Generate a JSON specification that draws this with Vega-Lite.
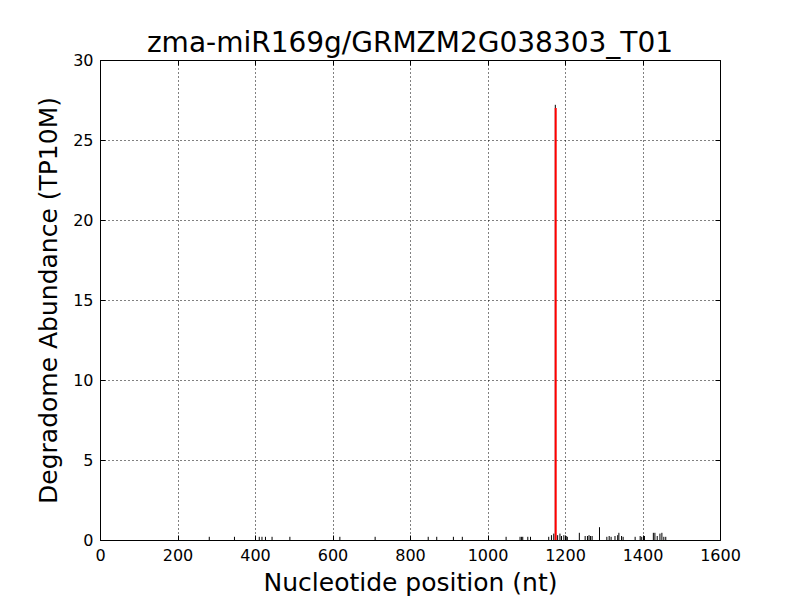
{
  "$schema": "https://vega.github.io/schema/vega-lite/v6.json",
  "width": 620,
  "height": 480,
  "autosize": "none",
  "padding": {"left": 100, "top": 60, "right": 80, "bottom": 60},
  "background": "white",
  "title": {"text": "zma-miR169g/GRMZM2G038303_T01", "font": "DejaVu Sans", "fontSize": 28, "fontWeight": "normal", "color": "black", "offset": -6},
  "config": {
    "view": {"stroke": "black", "strokeWidth": 1},
    "axis": {
      "labelFont": "DejaVu Sans", "labelFontSize": 16, "labelColor": "black", "labelFlush": false, "labelOverlap": false,
      "titleFont": "DejaVu Sans", "titleFontSize": 25, "titleFontWeight": "normal", "titleColor": "black",
      "domain": false, "tickColor": "black", "tickSize": -5, "labelPadding": 12,
      "grid": true, "gridColor": "black", "gridDash": [1, 3], "gridOpacity": 1
    }
  },
  "datasets": {
    "bars": [
      {"pos": 282, "val": 0.2}, {"pos": 347, "val": 0.2}, {"pos": 411, "val": 0.2}, {"pos": 418, "val": 0.2},
      {"pos": 427, "val": 0.2}, {"pos": 444, "val": 0.2}, {"pos": 490, "val": 0.2}, {"pos": 619, "val": 0.2},
      {"pos": 710, "val": 0.2}, {"pos": 847, "val": 0.2}, {"pos": 869, "val": 0.2}, {"pos": 912, "val": 0.2},
      {"pos": 935, "val": 0.2}, {"pos": 1048, "val": 0.2}, {"pos": 1084, "val": 0.2}, {"pos": 1088, "val": 0.2},
      {"pos": 1091, "val": 0.2}, {"pos": 1104, "val": 0.2}, {"pos": 1111, "val": 0.2}, {"pos": 1158, "val": 0.2},
      {"pos": 1165, "val": 0.3}, {"pos": 1171, "val": 0.4}, {"pos": 1175, "val": 27.2}, {"pos": 1181, "val": 0.3},
      {"pos": 1187, "val": 0.4}, {"pos": 1191, "val": 0.25}, {"pos": 1197, "val": 0.3}, {"pos": 1203, "val": 0.25},
      {"pos": 1206, "val": 0.2}, {"pos": 1237, "val": 0.45}, {"pos": 1252, "val": 0.25}, {"pos": 1258, "val": 0.25},
      {"pos": 1262, "val": 0.3}, {"pos": 1266, "val": 0.25}, {"pos": 1270, "val": 0.25}, {"pos": 1289, "val": 0.8},
      {"pos": 1308, "val": 0.2}, {"pos": 1314, "val": 0.25}, {"pos": 1319, "val": 0.2}, {"pos": 1329, "val": 0.25},
      {"pos": 1336, "val": 0.3}, {"pos": 1339, "val": 0.45}, {"pos": 1346, "val": 0.25}, {"pos": 1350, "val": 0.2},
      {"pos": 1381, "val": 0.2}, {"pos": 1394, "val": 0.25}, {"pos": 1398, "val": 0.2}, {"pos": 1405, "val": 0.25},
      {"pos": 1428, "val": 0.45}, {"pos": 1432, "val": 0.45}, {"pos": 1438, "val": 0.25}, {"pos": 1445, "val": 0.4},
      {"pos": 1450, "val": 0.45}, {"pos": 1455, "val": 0.2}, {"pos": 1460, "val": 0.2}
    ],
    "site": [{"pos": 1176, "val": 27.0}]
  },
  "layer": [
    {
      "data": {"name": "bars"},
      "mark": {"type": "rule", "color": "black", "strokeWidth": 1},
      "encoding": {
        "x": {"field": "pos", "type": "quantitative", "scale": {"domain": [0, 1600], "nice": false, "zero": false}, "axis": {"title": "Nucleotide position (nt)", "format": "d", "values": [0, 200, 400, 600, 800, 1000, 1200, 1400, 1600], "titlePadding": 7}},
        "y": {"field": "val", "type": "quantitative", "scale": {"domain": [0, 30], "nice": false}, "axis": {"title": "Degradome Abundance (TP10M)", "values": [0, 5, 10, 15, 20, 25, 30], "titlePadding": 11}},
        "y2": {"datum": 0}
      }
    },
    {
      "data": {"name": "site"},
      "mark": {"type": "rule", "color": "#ff0000", "strokeWidth": 2},
      "encoding": {
        "x": {"field": "pos", "type": "quantitative", "axis": {"orient": "top", "labels": false, "title": null, "grid": false, "values": [0, 200, 400, 600, 800, 1000, 1200, 1400, 1600]}},
        "y": {"field": "val", "type": "quantitative", "axis": {"orient": "right", "labels": false, "title": null, "grid": false, "values": [0, 5, 10, 15, 20, 25, 30]}},
        "y2": {"datum": 0}
      }
    }
  ],
  "resolve": {"axis": {"x": "independent", "y": "independent"}}
}
